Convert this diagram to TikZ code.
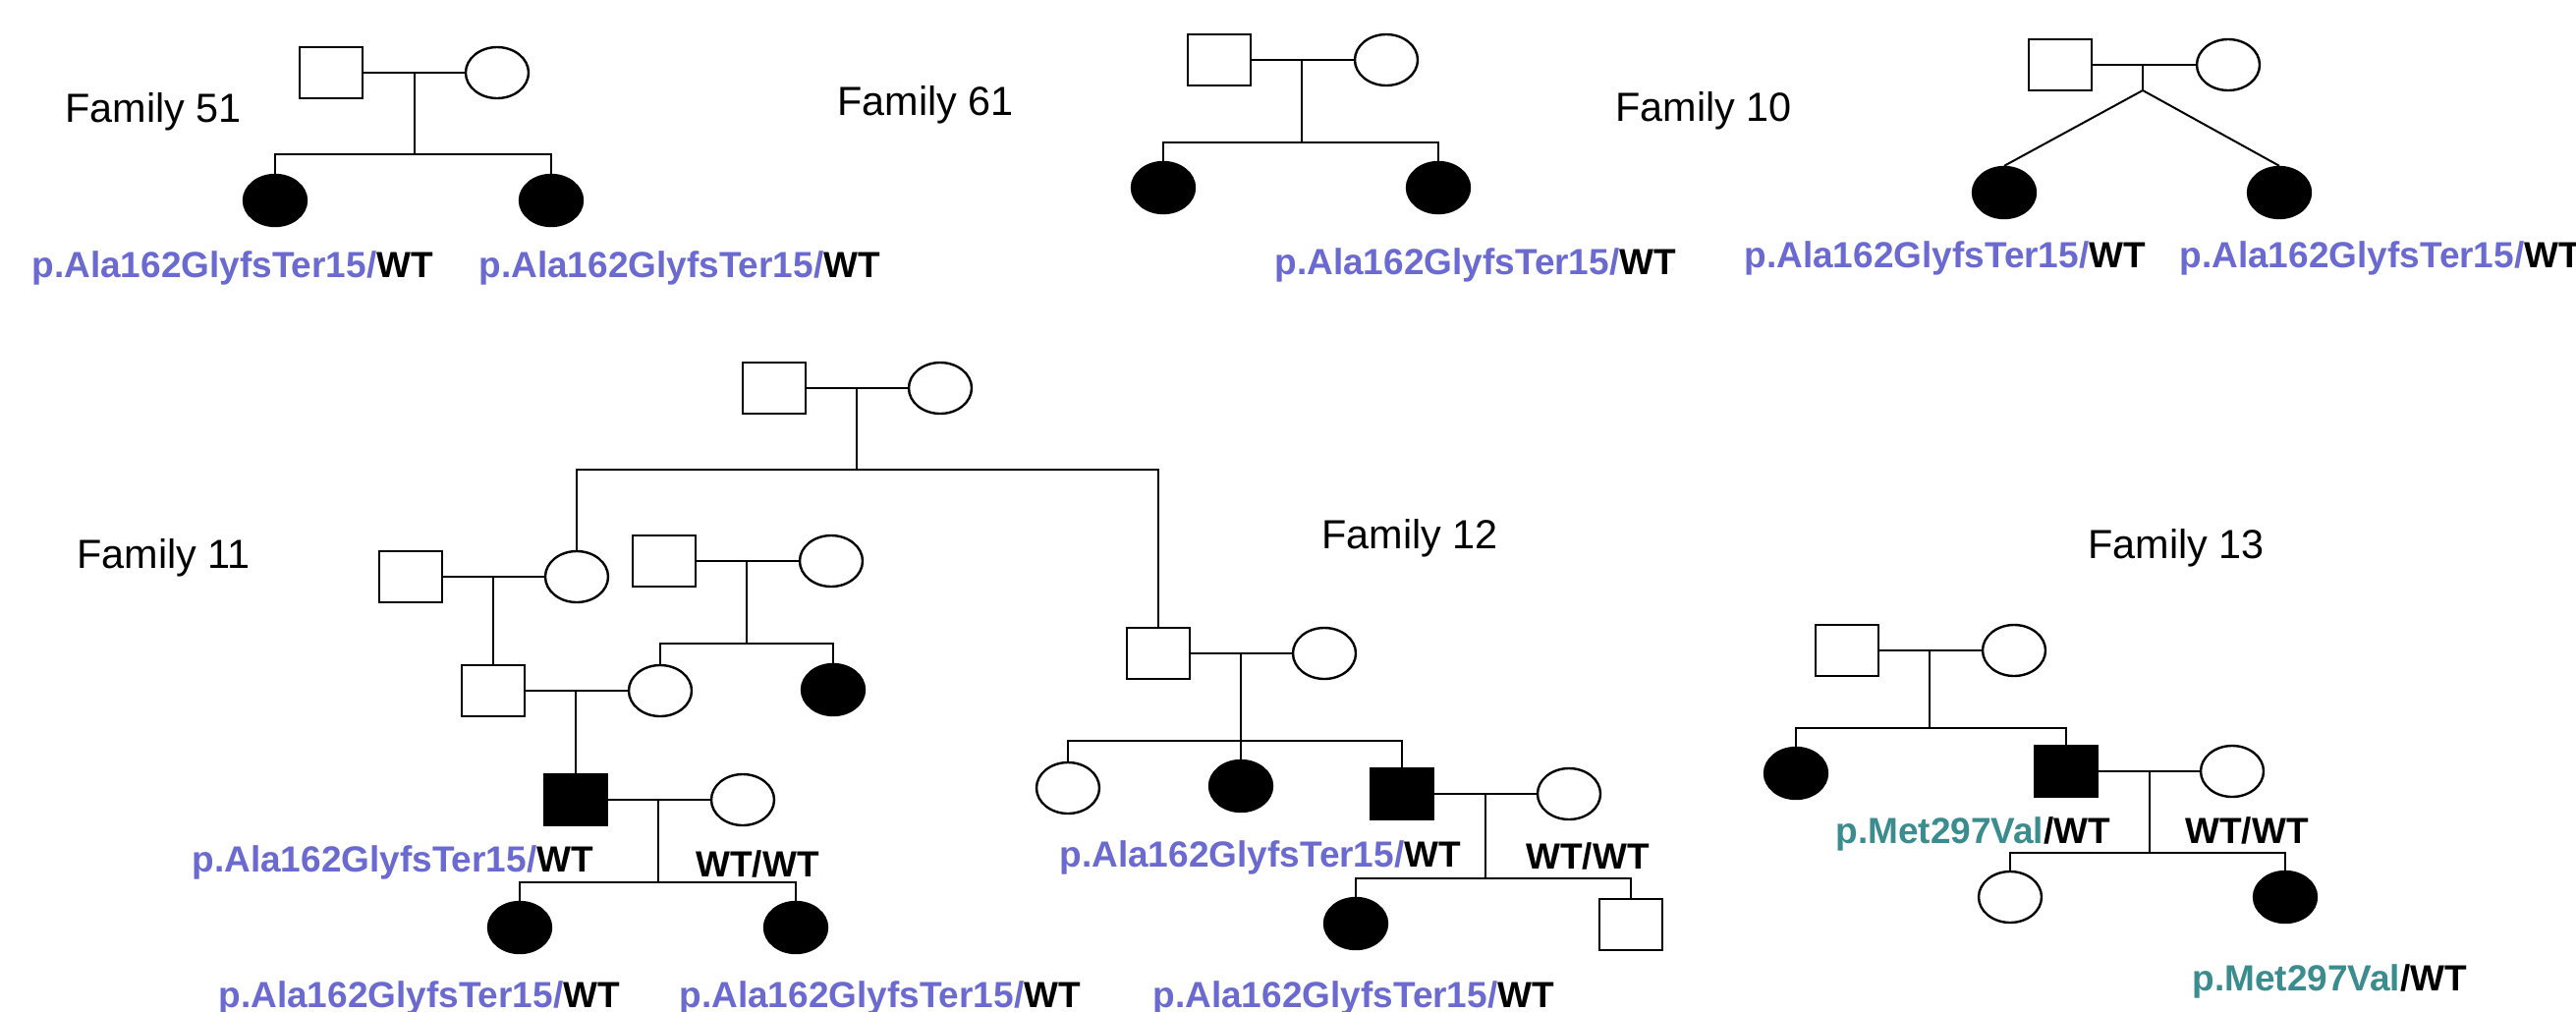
\documentclass[tikz,border=0pt]{standalone}
\usepackage{fontspec}
\setmainfont{Liberation Sans}
\usetikzlibrary{shapes.geometric}
\definecolor{mutblue}{RGB}{106,106,208}
\definecolor{mutteal}{RGB}{58,140,142}
\newcommand{\genofont}{\fontsize{18.5pt}{22pt}\selectfont\bfseries}
\newcommand{\famfont}{\fontsize{20.7pt}{24pt}\selectfont}
\newcommand{\alab}{{\color{mutblue}p.Ala162GlyfsTer15/}WT}
\newcommand{\mlab}{{\color{mutteal}p.Met297Val}/WT}
\begin{document}
\begin{tikzpicture}[x=0.5pt,y=-0.5pt,
  male/.style={draw, rectangle, line width=1.2pt, minimum width=32pt, minimum height=26pt, inner sep=0pt},
  female/.style={draw, ellipse, line width=1.2pt, minimum width=32pt, minimum height=26pt, inner sep=0pt},
  aff/.style={fill=black},
  geno/.style={anchor=base west, inner sep=0pt, font=\genofont},
  fam/.style={anchor=base west, inner sep=0pt, font=\famfont},
  ln/.style={line width=1pt}]
\useasboundingbox (0,0) rectangle (2622,1029);

% ---------------- Family 51
\node[fam] (F51) at (66,124) {Family 51};
\node[male] (m51) at (337,74) {};
\node[female] (f51) at (506,74) {};
\node[female,aff] (c51a) at (280,204) {};
\node[female,aff] (c51b) at (561,204) {};
\coordinate (s51) at (422,157);
\draw[ln] (m51) -- (f51);
\draw[ln] (m51.east -| s51) -- (s51);
\draw[ln] (c51a.north) |- (s51) -| (c51b.north);
\node[geno] (g51a) at (32,282) {\alab};
\node[geno] (g51b) at (487,282) {\alab};

% ---------------- Family 61
\node[fam] (F61) at (852,117) {Family 61};
\node[male] (m61) at (1241,61) {};
\node[female] (f61) at (1411,61) {};
\node[female,aff] (c61a) at (1184,191) {};
\node[female,aff] (c61b) at (1464,191) {};
\coordinate (s61) at (1325,145);
\draw[ln] (m61) -- (f61);
\draw[ln] (m61.east -| s61) -- (s61);
\draw[ln] (c61a.north) |- (s61) -| (c61b.north);
\node[geno] (g61) at (1297,279) {\alab};

% ---------------- Family 10
\node[fam] (F10) at (1644,123) {Family 10};
\node[male] (m10) at (2097,66) {};
\node[female] (f10) at (2268,66) {};
\node[female,aff] (c10a) at (2040,196) {};
\node[female,aff] (c10b) at (2320,196) {};
\coordinate (t10) at (2181,92);
\draw[ln] (m10) -- (f10);
\draw[ln] (m10.east -| t10) -- (t10);
\draw[ln] (c10a.north) -- (t10) -- (c10b.north);
\node[geno] (g10a) at (1775,272) {\alab};
\node[geno] (g10b) at (2218,272) {\alab};

% ---------------- Family 11
\node[fam] (F11) at (78,578) {Family 11};
\node[male] (m11a) at (788,395) {};
\node[female] (f11a) at (957,395) {};
\node[male] (m11b) at (418,587) {};
\node[female] (f11b) at (587,587) {};
\node[male] (m11d) at (676,571) {};
\node[female] (f11d) at (846,571) {};
\node[male] (m11c) at (502,703) {};
\node[female] (f11c) at (672,703) {};
\node[female,aff] (c11x) at (848,702) {};
\node[male,aff] (m11e) at (586,814) {};
\node[female] (f11e) at (756,814) {};
\node[female,aff] (c11a) at (529,944) {};
\node[female,aff] (c11b) at (810,944) {};
\coordinate (s11) at (872,478);
\coordinate (s11d) at (760,655);
\coordinate (s11e) at (670,898);

% ---------------- Family 12
\node[fam] (F12) at (1345,558) {Family 12};
\node[male] (m12a) at (1179,665) {};
\node[female] (f12a) at (1348,665) {};
\node[female] (f12b) at (1087,802) {};
\node[female,aff] (c12x) at (1263,800) {};
\node[male,aff] (m12b) at (1427,808) {};
\node[female] (f12c) at (1597,808) {};
\node[female,aff] (c12a) at (1380,940) {};
\node[male] (m12c) at (1660,941) {};
\coordinate (s12) at (1263,754);
\coordinate (s12b) at (1512,894);

% connectors family 11
\draw[ln] (m11a) -- (f11a);
\draw[ln] (m11a.east -| s11) -- (s11);
\draw[ln] (f11b.north) |- (s11) -| (m12a.north);
\draw[ln] (m11b) -- (f11b);
\draw[ln] (m11b.east -| m11c.north) -- (m11c.north);
\draw[ln] (m11d) -- (f11d);
\draw[ln] (m11d.east -| s11d) -- (s11d);
\draw[ln] (f11c.north) |- (s11d) -| (c11x.north);
\draw[ln] (m11c) -- (f11c);
\draw[ln] (m11c.east -| m11e.north) -- (m11e.north);
\draw[ln] (m11e) -- (f11e);
\draw[ln] (m11e.east -| s11e) -- (s11e);
\draw[ln] (c11a.north) |- (s11e) -| (c11b.north);
\node[geno] (g11e) at (195,887) {\alab};
\node[geno] (g11w) at (708,892) {WT/WT};
\node[geno] (g11a) at (222,1025) {\alab};
\node[geno] (g11b) at (691,1025) {\alab};

% connectors family 12
\draw[ln] (m12a) -- (f12a);
\draw[ln] (m12a.east -| s12) -- (c12x.north);
\draw[ln] (f12b.north) |- (s12) -| (m12b.north);
\draw[ln] (m12b) -- (f12c);
\draw[ln] (m12b.east -| s12b) -- (s12b);
\draw[ln] (c12a.north) |- (s12b) -| (m12c.north);
\node[geno] (g12b) at (1078,882) {\alab};
\node[geno] (g12w) at (1553,884) {WT/WT};
\node[geno] (g12a) at (1173,1025) {\alab};

% ---------------- Family 13
\node[fam] (F13) at (2125,568) {Family 13};
\node[male] (m13a) at (1880,662) {};
\node[female] (f13a) at (2050,662) {};
\node[female,aff] (c13x) at (1828,787) {};
\node[male,aff] (m13b) at (2103,785) {};
\node[female] (f13b) at (2272,785) {};
\node[female] (f13c) at (2046,913) {};
\node[female,aff] (c13y) at (2326,913) {};
\coordinate (s13) at (1964,741);
\coordinate (s13b) at (2188,868);
\draw[ln] (m13a) -- (f13a);
\draw[ln] (m13a.east -| s13) -- (s13);
\draw[ln] (c13x.north) |- (s13) -| (m13b.north);
\draw[ln] (m13b) -- (f13b);
\draw[ln] (m13b.east -| s13b) -- (s13b);
\draw[ln] (f13c.north) |- (s13b) -| (c13y.north);
\node[geno] (g13b) at (1868,858) {\mlab};
\node[geno] (g13w) at (2224,858) {WT/WT};
\node[geno] (g13y) at (2231,1008) {\mlab};
\end{tikzpicture}
\end{document}
